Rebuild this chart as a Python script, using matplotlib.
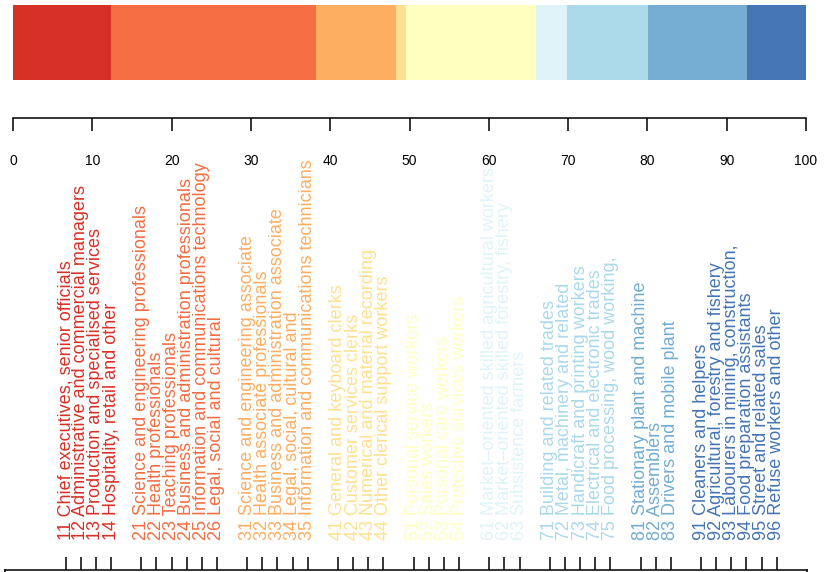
import matplotlib.pyplot as plt
import numpy as np

plt.rcParams['font.family'] = ['Liberation Sans', 'DejaVu Sans']

# share of each major occupation group (%)
groups = [1, 2, 3, 4, 5, 6, 7, 8, 9]
shares = [12.4, 25.8, 10.1, 1.3, 16.3, 3.9, 10.3, 12.4, 7.5]
colors = ['#D73027', '#F46D43', '#FDAE61', '#FEE090', '#FFFFBF',
          '#E0F3F8', '#ABD9E9', '#74ADD1', '#4575B4']

codes = [11, 12, 13, 14,
         21, 22, 23, 24, 25, 26,
         31, 32, 33, 34, 35,
         41, 42, 43, 44,
         51, 52, 53, 54,
         61, 62, 63,
         71, 72, 73, 74, 75,
         81, 82, 83,
         91, 92, 93, 94, 95, 96]
names = ['Chief executives, senior officials',
         'Administrative and commercial managers',
         'Production and specialised services',
         'Hospitality, retail and other',
         'Science and engineering professionals',
         'Health professionals',
         'Teaching professionals',
         'Business and administration professionals',
         'Information and communications technology',
         'Legal, social and cultural',
         'Science and engineering associate',
         'Health associate professionals',
         'Business and administration associate',
         'Legal, social, cultural and',
         'Information and communications technicians',
         'General and keyboard clerks',
         'Customer services clerks',
         'Numerical and material recording',
         'Other clerical support workers',
         'Personal service workers',
         'Sales workers',
         'Personal care workers',
         'Protective services workers',
         'Market–oriented skilled agricultural workers',
         'Market–oriented skilled forestry, fishery',
         'Subsistence farmers',
         'Building and related trades',
         'Metal, machinery and related',
         'Handicraft and printing workers',
         'Electrical and electronic trades',
         'Food processing, wood working,',
         'Stationary plant and machine',
         'Assemblers',
         'Drivers and mobile plant',
         'Cleaners and helpers',
         'Agricultural, forestry and fishery',
         'Labourers in mining, construction,',
         'Food preparation assistants',
         'Street and related sales',
         'Refuse workers and other']

W, H = 835, 572
fig = plt.figure(figsize=(W / 100, H / 100), dpi=100)

# stacked bar
ax = fig.add_axes([13 / W, 1 - 80 / H, 793 / W, 75 / H])
left = np.concatenate([[0], np.cumsum(shares)[:-1]])
ax.barh(0.5, shares, left=left, height=1, color=colors)
ax.set_xlim(0, 100)
ax.set_ylim(0, 1)
for s in ['top', 'left', 'right']:
    ax.spines[s].set_visible(False)
ax.spines['bottom'].set_position(('outward', 27.4))
ax.spines['bottom'].set_linewidth(1.1)
ax.set_yticks([])
ax.set_xticks(np.arange(0, 101, 10))
ax.tick_params(axis='x', length=9.6, width=1.1, pad=16.5, labelsize=10)

# occupation labels, one slot gap between major groups
major = [c // 10 for c in codes]
pos = []
k = 0
for i, m in enumerate(major):
    if i > 0 and m != major[i - 1]:
        k += 1
    pos.append(k)
    k += 1
pos = np.array(pos)

ax2 = fig.add_axes([5 / W, -0.5, 802 / W, 0.5 + 2 / H])
ax2.set_xlim(pos[0] - 4.01, pos[-1] + 2.0)
ax2.set_ylim(0, 1)
ax2.set_yticks([])
for s in ax2.spines.values():
    s.set_linewidth(1.1)
ax2.xaxis.tick_top()
ax2.set_xticks(pos)
ax2.set_xticklabels([f'{c} {n}' for c, n in zip(codes, names)], rotation=90)
ax2.tick_params(axis='x', length=9.4, width=1.1, pad=12, labelsize=13)
for lab, m in zip(ax2.get_xticklabels(), major):
    lab.set_color(colors[m - 1])

plt.savefig('out.png', dpi=100)
